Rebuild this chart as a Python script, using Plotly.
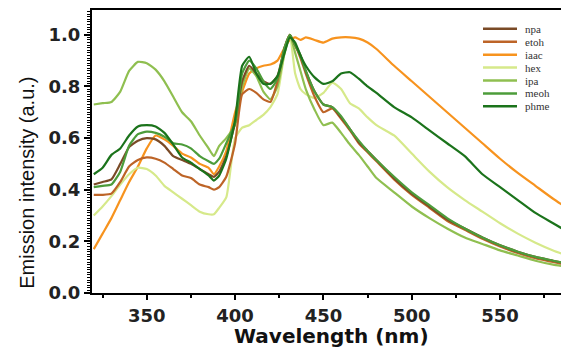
import plotly.graph_objects as go

# ---------------- data ----------------
wavelength = [320, 325, 330, 335, 340, 345, 350, 355, 360, 365, 370, 375, 380, 385, 388, 391,
              395, 400, 404, 408, 412, 416, 420, 424, 428, 431, 434, 437, 440, 445, 450, 455,
              460, 465, 470, 475, 480, 490, 500, 510, 520, 530, 540, 550, 560, 570, 580, 590]

npa = [0.42, 0.43, 0.44, 0.50, 0.565, 0.59, 0.60, 0.595, 0.57, 0.53, 0.515, 0.50, 0.48, 0.46, 0.45, 0.47,
       0.53, 0.66, 0.82, 0.88, 0.85, 0.82, 0.81, 0.84, 0.95, 1.0, 0.96, 0.92, 0.86, 0.78, 0.73, 0.72,
       0.68, 0.635, 0.585, 0.55, 0.515, 0.445, 0.385, 0.335, 0.285, 0.25, 0.215, 0.185, 0.16, 0.14, 0.125, 0.11]

etoh = [0.38, 0.38, 0.385, 0.43, 0.49, 0.515, 0.525, 0.52, 0.505, 0.48, 0.455, 0.445, 0.42, 0.41, 0.40, 0.41,
        0.45, 0.58, 0.77, 0.79, 0.775, 0.75, 0.74, 0.82, 0.95, 1.0, 0.96, 0.91, 0.85, 0.76, 0.70, 0.715,
        0.675, 0.63, 0.58, 0.545, 0.51, 0.44, 0.38, 0.33, 0.28, 0.245, 0.21, 0.18, 0.155, 0.135, 0.12, 0.105]

iaac = [0.17, 0.23, 0.29, 0.36, 0.43, 0.49, 0.56, 0.61, 0.595, 0.57, 0.54, 0.525, 0.50, 0.485, 0.46, 0.49,
        0.55, 0.70, 0.78, 0.85, 0.87, 0.88, 0.885, 0.90, 0.95, 0.98, 0.99, 0.98, 0.99, 0.98, 0.97, 0.985,
        0.99, 0.99, 0.985, 0.97, 0.945, 0.88, 0.82, 0.76, 0.70, 0.64, 0.58, 0.52, 0.465, 0.415, 0.365, 0.32]

hexane = [0.30, 0.335, 0.375, 0.42, 0.46, 0.485, 0.48, 0.455, 0.415, 0.39, 0.365, 0.34, 0.315, 0.305, 0.305, 0.33,
          0.37, 0.60, 0.64, 0.65, 0.67, 0.69, 0.72, 0.77, 0.93, 1.0, 0.85, 0.79, 0.77, 0.755, 0.775, 0.815,
          0.79, 0.735, 0.715, 0.68, 0.65, 0.61, 0.54, 0.47, 0.41, 0.36, 0.315, 0.27, 0.23, 0.195, 0.165, 0.14]

ipa = [0.73, 0.735, 0.74, 0.78, 0.86, 0.895, 0.89, 0.865, 0.82, 0.76, 0.70, 0.665, 0.61, 0.56, 0.53, 0.57,
       0.60, 0.65, 0.80, 0.87, 0.84, 0.78, 0.75, 0.80, 0.93, 1.0, 0.93, 0.86, 0.79, 0.71, 0.65, 0.66,
       0.62, 0.575, 0.535, 0.49, 0.445, 0.39, 0.335, 0.29, 0.25, 0.215, 0.19, 0.165, 0.145, 0.125, 0.11, 0.10]

meoh = [0.41, 0.415, 0.42, 0.47, 0.57, 0.615, 0.625, 0.62, 0.605, 0.58, 0.575, 0.56, 0.53, 0.51, 0.50, 0.52,
        0.58, 0.66, 0.85, 0.90, 0.87, 0.82, 0.79, 0.83, 0.95, 1.0, 0.96, 0.92, 0.86, 0.78, 0.73, 0.72,
        0.685, 0.635, 0.59, 0.55, 0.515, 0.45, 0.39, 0.34, 0.29, 0.25, 0.215, 0.185, 0.16, 0.14, 0.125, 0.11]

phme = [0.46, 0.485, 0.535, 0.56, 0.61, 0.645, 0.65, 0.645, 0.62, 0.575, 0.525, 0.505, 0.48, 0.455, 0.435, 0.455,
        0.52, 0.67, 0.88, 0.915, 0.85, 0.81, 0.81, 0.84, 0.93, 0.99, 0.97, 0.92, 0.88, 0.835, 0.81, 0.82,
        0.85, 0.855, 0.83, 0.80, 0.775, 0.72, 0.68, 0.63, 0.58, 0.53, 0.46, 0.41, 0.36, 0.31, 0.27, 0.23]

legend_names = ["npa", "etoh", "iaac", "hex", "ipa", "meoh", "phme"]
series_values = [npa, etoh, iaac, hexane, ipa, meoh, phme]
colors = ["#7a4a26", "#bd6427", "#f7931e", "#d6e98a", "#8fbf50", "#4c9c3a", "#1b731b"]
draw_order = [2, 3, 4, 1, 0, 5, 6]

x_tick_vals = [350, 400, 450, 500, 550]
y_tick_vals = [0.0, 0.2, 0.4, 0.6, 0.8, 1.0]
y_tick_text = ["0.0", "0.2", "0.4", "0.6", "0.8", "1.0"]

# ---------------- figure ----------------
# the page body adds an 8px margin, so the figure is sized / placed to compensate
OFF = 8
W, H = 569 - OFF, 349 - OFF
PLOT_L, PLOT_T, PLOT_B = 92, 8, 293          # page-pixel positions of the plot box
ML, MT, MR = PLOT_L - OFF, PLOT_T - OFF, 0
MB = H - (PLOT_B - OFF)
PW, PH = W - ML - MR, H - MT - MB

fig = go.Figure()
for i in draw_order:
    fig.add_trace(go.Scatter(
        x=wavelength, y=series_values[i], name=legend_names[i], mode="lines",
        line=dict(color=colors[i], width=2.2, shape="spline", smoothing=0.5),
        showlegend=False, hoverinfo="x+y+name"))

def px_to_paper(px, py):
    fx, fy = px - OFF, py - OFF
    return (fx - ML) / PW, (MT + PH - fy) / PH

# hand-placed legend (compact spacing as in the reference)
shapes = []
annotations = []
for k, (name, col) in enumerate(zip(legend_names, colors)):
    py = 27 + 13 * k
    x0, y0 = px_to_paper(483, py)
    x1, _ = px_to_paper(517, py)
    shapes.append(dict(type="line", xref="paper", yref="paper", x0=x0, x1=x1, y0=y0, y1=y0,
                       line=dict(color=col, width=2.5)))
    tx, _ = px_to_paper(523, py)
    annotations.append(dict(xref="paper", yref="paper", x=tx, y=y0, text=name, showarrow=False,
                            xanchor="left", yanchor="middle",
                            font=dict(family="Liberation Serif", size=11, color="#333333")))

# axis titles
tx, ty = px_to_paper(27, 182)
annotations.append(dict(xref="paper", yref="paper", x=tx, y=ty, text="Emission intensity (a.u.)",
                        textangle=-90, showarrow=False, xanchor="center", yanchor="middle",
                        font=dict(family="Liberation Sans", size=20, color="#111111")))
tx, ty = px_to_paper(331, 336)
annotations.append(dict(xref="paper", yref="paper", x=tx, y=ty, text="Wavelength (nm)",
                        showarrow=False, xanchor="center", yanchor="middle",
                        font=dict(family="DejaVu Sans", size=20, color="#111111", weight="bold")))

fig.update_layout(
    width=W, height=H,
    margin=dict(l=ML, r=MR, t=MT, b=MB, pad=0),
    paper_bgcolor="white", plot_bgcolor="white",
    shapes=shapes, annotations=annotations,
    xaxis=dict(range=[319, 589], showgrid=False, zeroline=False,
               showline=True, linecolor="black", linewidth=2, mirror=True,
               ticks="outside", ticklen=5, tickwidth=1.5, tickcolor="black",
               tickvals=x_tick_vals,
               minor=dict(ticks="outside", dtick=25, tick0=325, ticklen=3, tickwidth=1.5, tickcolor="black"),
               tickfont=dict(family="DejaVu Sans", size=18, color="#222222", weight="bold")),
    yaxis=dict(range=[0, 1.096], showgrid=False, zeroline=False,
               showline=True, linecolor="black", linewidth=2, mirror=False,
               ticks="outside", ticklen=6, tickwidth=1.5, tickcolor="black",
               tickvals=y_tick_vals, ticktext=y_tick_text,
               minor=dict(ticks="outside", dtick=0.01, ticklen=3, tickwidth=1, tickcolor="black"),
               tickfont=dict(family="DejaVu Sans", size=18, color="#222222", weight="bold")),
)

fig.write_html("out.html")
